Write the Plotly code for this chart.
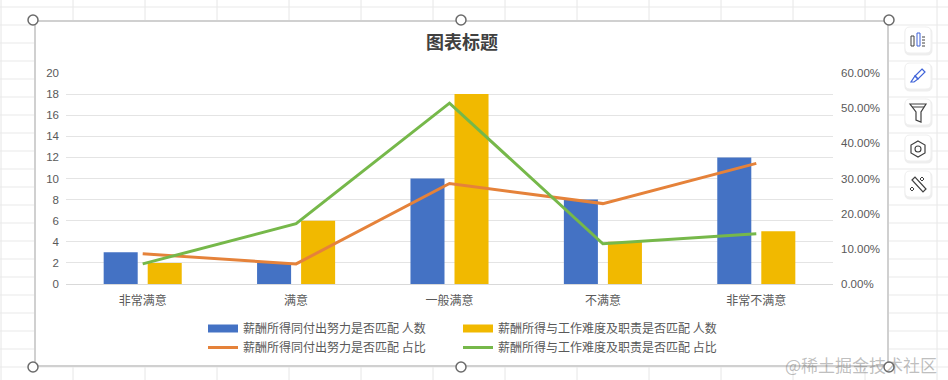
import plotly.graph_objects as go

categories = ["非常满意", "满意", "一般满意", "不满意", "非常不满意"]
effort_count = [3, 2, 10, 8, 12]
duty_count = [2, 6, 18, 4, 5]
effort_share = [0.0857, 0.0571, 0.2857, 0.2286, 0.3429]
duty_share = [0.0571, 0.1714, 0.5143, 0.1143, 0.1429]
left_ticks = list(range(0, 21, 2))
right_ticks = [0, 0.1, 0.2, 0.3, 0.4, 0.5, 0.6]
name_effort = "薪酬所得同付出努力是否匹配"
name_duty = "薪酬所得与工作难度及职责是否匹配"
title_text = "图表标题"
watermark = "@稀土掘金技术社区"

W, H = 948, 380
L, R, T, B = 66, 833, 73, 284
CJK = "Noto Sans CJK SC"
TXT = "#595959"
BLUE, GOLD, ORANGE, GREEN = "#4472c4", "#f1b900", "#e5823a", "#76b84a"


def px(x):
    return (x - L) / (R - L)


def py(y):
    return (B - y) / (B - T)


def P(points, close=False):
    s = "M" + " L".join(f"{px(x):.5f},{py(y):.5f}" for x, y in points)
    return s + (" Z" if close else "")


shapes = []


def line(x0, y0, x1, y1, color, width=1, layer="below"):
    shapes.append(dict(type="line", xref="paper", yref="paper", x0=px(x0), x1=px(x1), y0=py(y0), y1=py(y1),
                       line=dict(color=color, width=width), layer=layer))


def rect(x0, y0, x1, y1, fill, color=None, width=0, layer="below"):
    shapes.append(dict(type="rect", xref="paper", yref="paper", x0=px(x0), x1=px(x1), y0=py(y0), y1=py(y1),
                       fillcolor=fill, line=dict(color=color or fill, width=width), layer=layer))


def rounded(x0, y0, x1, y1, r, fill, color, width=1):
    a = lambda x, y: f"{px(x):.5f},{py(y):.5f}"
    path = (f"M{a(x0 + r, y0)} L{a(x1 - r, y0)} Q{a(x1, y0)} {a(x1, y0 + r)} L{a(x1, y1 - r)} "
            f"Q{a(x1, y1)} {a(x1 - r, y1)} L{a(x0 + r, y1)} Q{a(x0, y1)} {a(x0, y1 - r)} "
            f"L{a(x0, y0 + r)} Q{a(x0, y0)} {a(x0 + r, y0)} Z")
    shapes.append(dict(type="path", xref="paper", yref="paper", path=path, fillcolor=fill,
                       line=dict(color=color, width=width), layer="above"))


def circle(cx, cy, r, fill, color, width=1.5, layer="above"):
    shapes.append(dict(type="circle", xref="paper", yref="paper", x0=px(cx - r), x1=px(cx + r), y0=py(cy + r),
                       y1=py(cy - r), fillcolor=fill, line=dict(color=color, width=width), layer=layer))


def poly(points, color, width=1.2, fill="rgba(0,0,0,0)", close=True):
    shapes.append(dict(type="path", xref="paper", yref="paper", path=P(points, close), fillcolor=fill,
                       line=dict(color=color, width=width), layer="above"))


# spreadsheet cell grid
for gx in range(1, W, 72):
    line(gx, 0, gx, H, "#e6e6e6")
for gy in range(7, H, 18):
    line(0, gy, W, gy, "#e9e9e9")

# chart frame
rect(35, 21, 888, 366, "#ffffff", "#d0d0d0", 2)

# toolbar
for top in (27, 63, 99, 135, 171):
    rounded(905, top + 1, 932, top + 28, 5, "#eeeeee", "#eeeeee")
    rounded(905, top, 931, top + 26, 5, "#ffffff", "#f0f0f0")
DK = "#404040"
BL = "#3f63d8"
# chart icon
rect(911, 36, 914, 46, "rgba(0,0,0,0)", DK, 1, "above")
rect(917, 33, 920, 46, "rgba(0,0,0,0)", BL, 1, "above")
for yy in (37, 40, 43, 46):
    line(922, yy, 925, yy, DK, 1, "above")
# brush icon
poly([(922, 69), (925, 72), (918, 79), (915, 76)], BL)
poly([(915, 76), (918, 79), (914, 82), (911, 82)], BL)
# funnel
poly([(910, 104), (926, 104), (921, 112), (921, 122), (916, 120), (916, 112)], DK)
line(912, 107, 924, 107, DK, 1, "above")
# hexagon
poly([(918, 141), (925, 145), (925, 153), (918, 157), (911, 153), (911, 145)], DK)
circle(918, 149, 3, "rgba(0,0,0,0)", DK, 1.1)
# wand
poly([(912, 180), (915, 177), (926, 189), (923, 192)], DK)
poly([(922, 177), (924, 179), (922, 181), (920, 179)], DK, 1)
poly([(912, 187), (914, 189), (912, 191), (910, 189)], DK, 1)

# selection handles
for hx in (33, 461, 889):
    for hy in (20, 367):
        circle(hx, hy, 5, "#ffffff", "#6b6b6b")

fig = go.Figure()
# the bars themselves
fig.add_bar(x=categories, y=effort_count, name=f"{name_effort} 人数", marker=dict(color=BLUE, line_width=0),
            showlegend=False)
fig.add_bar(x=categories, y=duty_count, name=f"{name_duty} 人数", marker=dict(color=GOLD, line_width=0),
            showlegend=False)
# legend entries for the bars: wide flat swatches as in the reference
fig.add_scatter(x=[None], y=[None], name=f"{name_effort} 人数", mode="lines", line=dict(color=BLUE, width=8),
                hoverinfo="skip", legend="legend")
fig.add_scatter(x=categories, y=effort_share, name=f"{name_effort} 占比", yaxis="y2", mode="lines",
                line=dict(color=ORANGE, width=3), legend="legend")
fig.add_scatter(x=[None], y=[None], name=f"{name_duty} 人数", mode="lines", line=dict(color=GOLD, width=8),
                hoverinfo="skip", legend="legend2")
fig.add_scatter(x=categories, y=duty_share, name=f"{name_duty} 占比", yaxis="y2", mode="lines",
                line=dict(color=GREEN, width=3), legend="legend2")

legend_common = dict(orientation="v", xref="paper", yref="paper", xanchor="left", yanchor="top", tracegroupgap=0,
                     itemwidth=30, font=dict(family=CJK, size=12, color=TXT), bgcolor="rgba(0,0,0,0)",
                     traceorder="normal")

fig.update_layout(
    width=W, height=H, autosize=False,
    margin=dict(l=L, r=W - R, t=T, b=H - B, pad=0),
    paper_bgcolor="#ffffff", plot_bgcolor="rgba(0,0,0,0)",
    barmode="group", bargap=0.426, bargroupgap=0.227,
    font=dict(family=CJK, size=12, color=TXT),
    title=dict(text=f"<b>{title_text}</b>", x=px(462), xanchor="center", xref="paper", y=1 - 43 / H, yanchor="middle",
               font=dict(family=CJK, size=18, color="#404040")),
    xaxis=dict(type="category", categoryorder="array", categoryarray=categories, showgrid=False, showline=True,
               linecolor="#d9d9d9", linewidth=1, ticks="", ticklabelstandoff=6,
               tickfont=dict(family=CJK, size=12, color=TXT), ticklen=0),
    yaxis=dict(range=[0, 20], tickvals=left_ticks, showgrid=True, gridcolor="#e4e4e4", gridwidth=1, zeroline=False,
               showline=False, ticks="", ticklabelstandoff=6,
               tickfont=dict(family="Liberation Sans", size=11.5, color=TXT)),
    yaxis2=dict(range=[0, 0.6], tickvals=right_ticks, tickformat=".2%", overlaying="y", side="right", showgrid=False,
                zeroline=False, showline=False, ticks="", ticklabelstandoff=7,
                tickfont=dict(family="Liberation Sans", size=11.5, color=TXT)),
    legend=dict(x=px(203), y=py(314), **legend_common),
    legend2=dict(x=px(458), y=py(314), **legend_common),
    shapes=shapes,
    annotations=[dict(text=watermark, xref="paper", yref="paper", x=px(783), y=py(364), xanchor="left",
                      yanchor="middle", showarrow=False,
                      font=dict(family=CJK, size=17, color="rgba(110,110,110,0.45)"))],
)

fig.write_html("out.html", config=dict(displayModeBar=False),
               post_script="document.body.style.margin='0';document.body.style.overflow='hidden';")
